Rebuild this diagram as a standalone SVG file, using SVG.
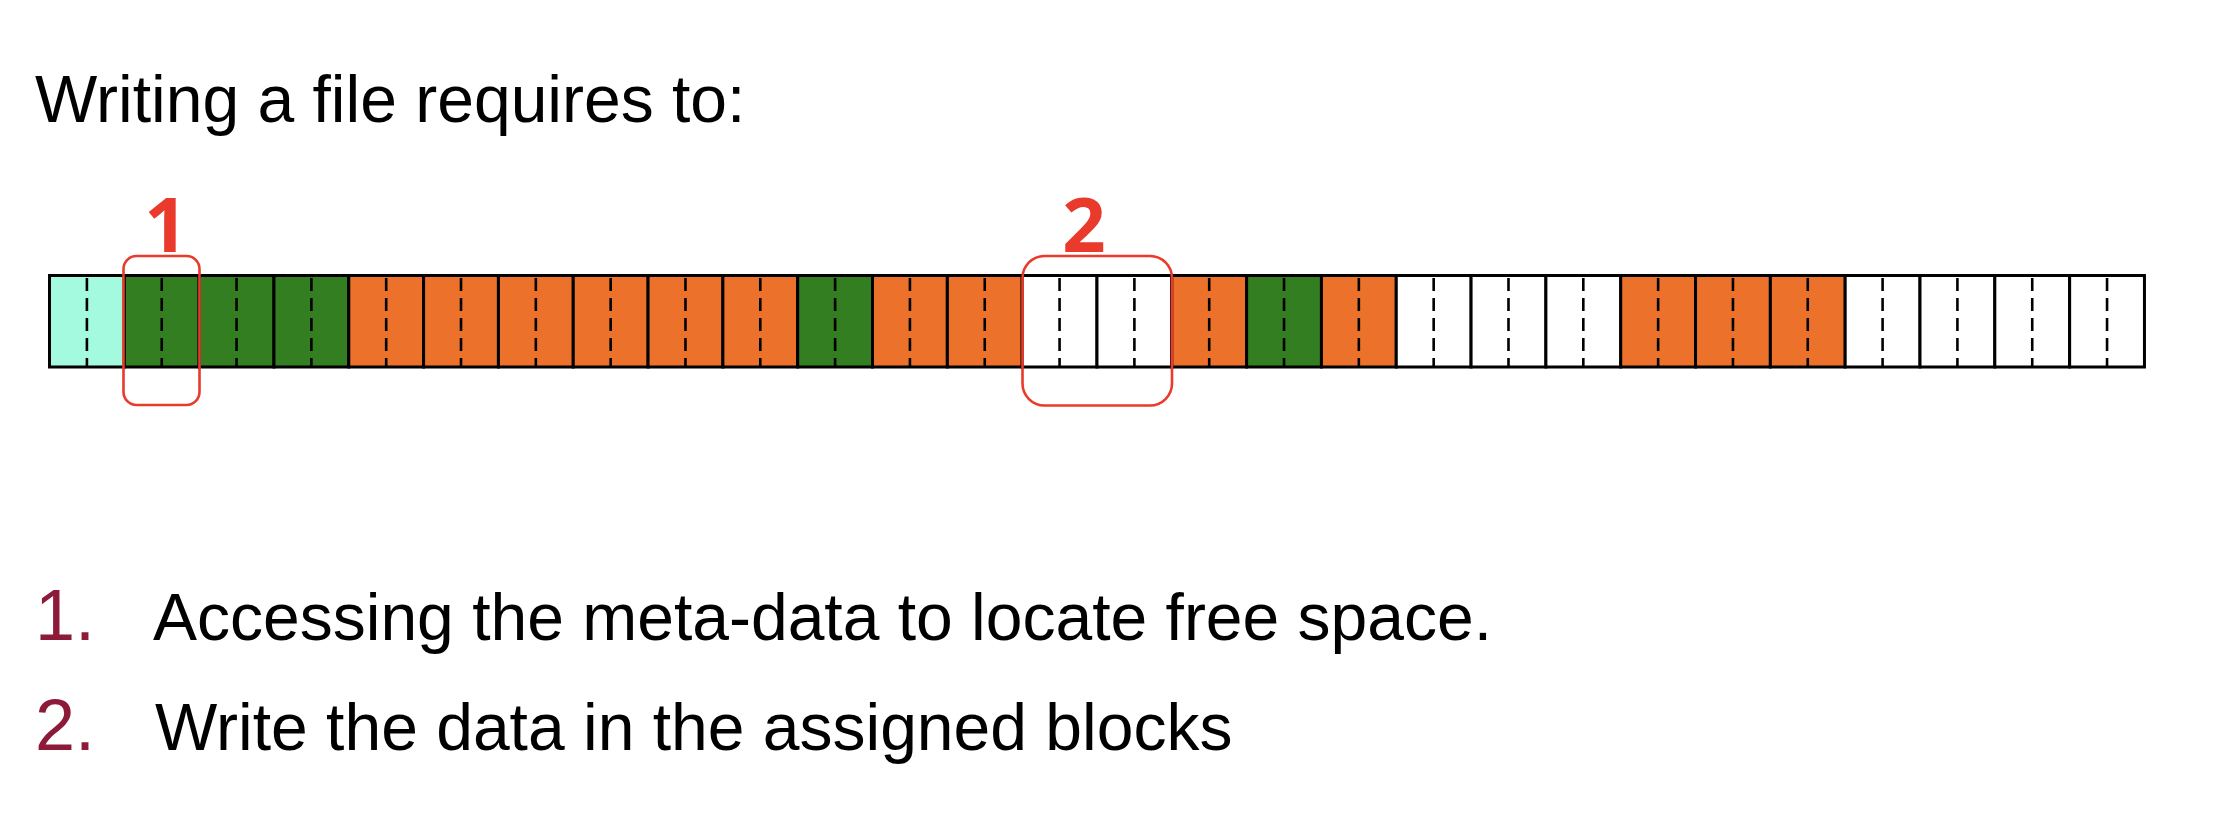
<svg xmlns="http://www.w3.org/2000/svg" width="2216" height="838" viewBox="0 0 2216 838">
<style>
.txt{font-family:"Liberation Sans",Arial,sans-serif;fill:#000}
.num{font-family:"Liberation Sans",Arial,sans-serif;fill:#8C1A38}
.lbl{font-family:"Open Sans","Noto Sans",sans-serif;font-weight:700;fill:#E93A2B;text-anchor:middle}
.blk{stroke:#000;stroke-width:3}
.c{fill:#A3FADF}.g{fill:#327E21}.o{fill:#EC722C}.w{fill:#FFFFFF}
.dash{stroke:#000;stroke-width:2.6;stroke-dasharray:13 7}
.sel{fill:none;stroke:#E93A2B;stroke-width:2.6}
</style>
<rect width="2216" height="838" fill="#fff"/>
<g id="title"><text class="txt" x="35" y="122" font-size="66">Writing a file requires to:</text></g>
<g id="strip">
<g id="block-0"><rect class="blk c" x="49.5" y="275.5" width="74.82" height="91.5"/><line class="dash" x1="86.91" y1="278" x2="86.91" y2="366"/></g>
<g id="block-1"><rect class="blk g" x="124.32" y="275.5" width="74.82" height="91.5"/><line class="dash" x1="161.73" y1="278" x2="161.73" y2="366"/></g>
<g id="block-2"><rect class="blk g" x="199.14" y="275.5" width="74.82" height="91.5"/><line class="dash" x1="236.55" y1="278" x2="236.55" y2="366"/></g>
<g id="block-3"><rect class="blk g" x="273.96" y="275.5" width="74.82" height="91.5"/><line class="dash" x1="311.37" y1="278" x2="311.37" y2="366"/></g>
<g id="block-4"><rect class="blk o" x="348.78" y="275.5" width="74.82" height="91.5"/><line class="dash" x1="386.19" y1="278" x2="386.19" y2="366"/></g>
<g id="block-5"><rect class="blk o" x="423.6" y="275.5" width="74.82" height="91.5"/><line class="dash" x1="461.01" y1="278" x2="461.01" y2="366"/></g>
<g id="block-6"><rect class="blk o" x="498.42" y="275.5" width="74.82" height="91.5"/><line class="dash" x1="535.83" y1="278" x2="535.83" y2="366"/></g>
<g id="block-7"><rect class="blk o" x="573.24" y="275.5" width="74.82" height="91.5"/><line class="dash" x1="610.65" y1="278" x2="610.65" y2="366"/></g>
<g id="block-8"><rect class="blk o" x="648.06" y="275.5" width="74.82" height="91.5"/><line class="dash" x1="685.47" y1="278" x2="685.47" y2="366"/></g>
<g id="block-9"><rect class="blk o" x="722.88" y="275.5" width="74.82" height="91.5"/><line class="dash" x1="760.29" y1="278" x2="760.29" y2="366"/></g>
<g id="block-10"><rect class="blk g" x="797.7" y="275.5" width="74.82" height="91.5"/><line class="dash" x1="835.11" y1="278" x2="835.11" y2="366"/></g>
<g id="block-11"><rect class="blk o" x="872.52" y="275.5" width="74.82" height="91.5"/><line class="dash" x1="909.93" y1="278" x2="909.93" y2="366"/></g>
<g id="block-12"><rect class="blk o" x="947.34" y="275.5" width="74.82" height="91.5"/><line class="dash" x1="984.75" y1="278" x2="984.75" y2="366"/></g>
<g id="block-13"><rect class="blk w" x="1022.16" y="275.5" width="74.82" height="91.5"/><line class="dash" x1="1059.57" y1="278" x2="1059.57" y2="366"/></g>
<g id="block-14"><rect class="blk w" x="1096.98" y="275.5" width="74.82" height="91.5"/><line class="dash" x1="1134.39" y1="278" x2="1134.39" y2="366"/></g>
<g id="block-15"><rect class="blk o" x="1171.8" y="275.5" width="74.82" height="91.5"/><line class="dash" x1="1209.21" y1="278" x2="1209.21" y2="366"/></g>
<g id="block-16"><rect class="blk g" x="1246.62" y="275.5" width="74.82" height="91.5"/><line class="dash" x1="1284.03" y1="278" x2="1284.03" y2="366"/></g>
<g id="block-17"><rect class="blk o" x="1321.44" y="275.5" width="74.82" height="91.5"/><line class="dash" x1="1358.85" y1="278" x2="1358.85" y2="366"/></g>
<g id="block-18"><rect class="blk w" x="1396.26" y="275.5" width="74.82" height="91.5"/><line class="dash" x1="1433.67" y1="278" x2="1433.67" y2="366"/></g>
<g id="block-19"><rect class="blk w" x="1471.08" y="275.5" width="74.82" height="91.5"/><line class="dash" x1="1508.49" y1="278" x2="1508.49" y2="366"/></g>
<g id="block-20"><rect class="blk w" x="1545.9" y="275.5" width="74.82" height="91.5"/><line class="dash" x1="1583.31" y1="278" x2="1583.31" y2="366"/></g>
<g id="block-21"><rect class="blk o" x="1620.72" y="275.5" width="74.82" height="91.5"/><line class="dash" x1="1658.13" y1="278" x2="1658.13" y2="366"/></g>
<g id="block-22"><rect class="blk o" x="1695.54" y="275.5" width="74.82" height="91.5"/><line class="dash" x1="1732.95" y1="278" x2="1732.95" y2="366"/></g>
<g id="block-23"><rect class="blk o" x="1770.36" y="275.5" width="74.82" height="91.5"/><line class="dash" x1="1807.77" y1="278" x2="1807.77" y2="366"/></g>
<g id="block-24"><rect class="blk w" x="1845.18" y="275.5" width="74.82" height="91.5"/><line class="dash" x1="1882.59" y1="278" x2="1882.59" y2="366"/></g>
<g id="block-25"><rect class="blk w" x="1920" y="275.5" width="74.82" height="91.5"/><line class="dash" x1="1957.41" y1="278" x2="1957.41" y2="366"/></g>
<g id="block-26"><rect class="blk w" x="1994.82" y="275.5" width="74.82" height="91.5"/><line class="dash" x1="2032.23" y1="278" x2="2032.23" y2="366"/></g>
<g id="block-27"><rect class="blk w" x="2069.64" y="275.5" width="74.82" height="91.5"/><line class="dash" x1="2107.05" y1="278" x2="2107.05" y2="366"/></g>
</g>
<g id="connectors"></g>
<g id="marker-1">
<rect class="sel" x="123.5" y="256" width="76" height="149" rx="13"/>
<text class="lbl" x="166" y="252" font-size="76">1</text>
</g>
<g id="marker-2">
<rect class="sel" x="1022.5" y="256" width="149.5" height="149.5" rx="22"/>
<text class="lbl" x="1084" y="252" font-size="76">2</text>
</g>
<g id="step-1">
<text class="num" x="35" y="640" font-size="72">1.</text>
<text class="txt" x="153" y="640" font-size="66">Accessing the meta-data to locate free space.</text>
</g>
<g id="step-2">
<text class="num" x="35" y="750" font-size="72">2.</text>
<text class="txt" x="155" y="750" font-size="66">Write the data in the assigned blocks</text>
</g>
</svg>
